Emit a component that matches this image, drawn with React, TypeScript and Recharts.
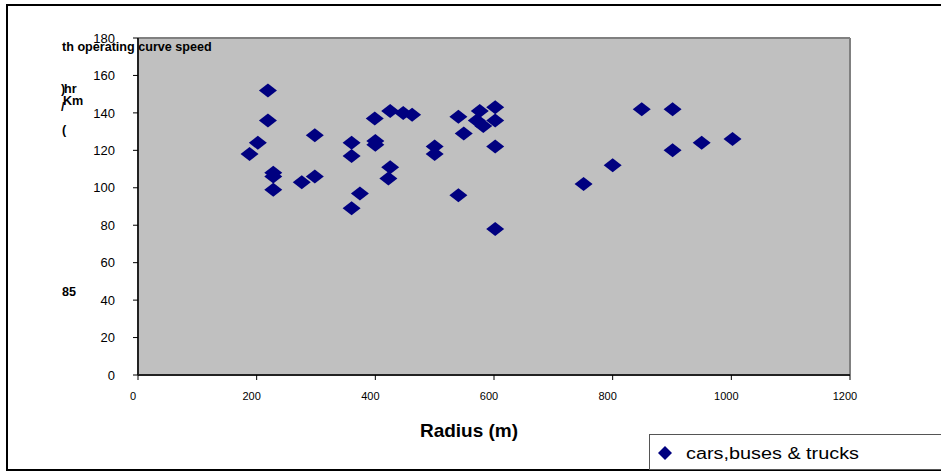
import React from "react";
import {
  ScatterChart,
  Scatter,
  XAxis,
  YAxis,
  CartesianGrid,
  ReferenceLine,
  Legend,
} from "recharts";

// radius (m) and 85th percentile operating speed (km/hr)
const radius = [
  219, 219, 202, 188, 228, 228, 228, 276, 298, 298, 360, 360, 360, 374, 399,
  400, 400, 425, 425, 422, 447, 462, 500, 500, 540, 549, 540, 576, 571, 582,
  602, 602, 602, 602, 751, 800, 849, 901, 901, 950, 1002,
];
const speed = [
  152, 136, 124, 118, 108, 106, 99, 103, 106, 128, 124, 117, 89, 97, 137, 125,
  123, 141, 111, 105, 140, 139, 122, 118, 138, 129, 96, 141, 136, 133, 143,
  136, 122, 78, 102, 112, 142, 142, 120, 124, 126,
];
const xTicks = [0, 200, 400, 600, 800, 1000, 1200];
const yTicks = [0, 20, 40, 60, 80, 100, 120, 140, 160, 180];
const seriesName = "cars,buses & trucks";

const data = radius.map((r, i) => ({ radius: r, speed: speed[i] }));

const FONT = "Arial, 'Liberation Sans', sans-serif";
const NAVY = "#000080";

const Diamond = (props: any) => {
  const { cx, cy } = props;
  if (cx == null || cy == null) return null;
  return (
    <polygon
      points={`${cx - 9},${cy} ${cx},${cy - 7} ${cx + 9},${cy} ${cx},${cy + 7}`}
      fill={NAVY}
    />
  );
};

// the broken y axis title as it appears in the original
const YTitle = () => (
  <g fontFamily={FONT} fontSize={12.6} fontWeight="bold" fill="#000">
    <text x={62} y={51}>th operating curve speed</text>
    <text x={61} y={93}>)</text>
    <text x={64} y={93}>hr</text>
    <text x={61} y={111}>/</text>
    <text x={63} y={105}>Km</text>
    <text x={62} y={134}>(</text>
    <text x={62} y={296}>85</text>
  </g>
);

const XTitle = (props: any) => {
  const { viewBox } = props;
  const cx = viewBox.x + viewBox.width / 2 - 25;
  return (
    <text
      x={cx}
      y={437}
      textAnchor="middle"
      fontFamily={FONT}
      fontSize={19}
      fontWeight="bold"
      fill="#000"
    >
      Radius (m)
    </text>
  );
};

const LegendBox = () => (
  <div
    style={{
      border: "1px solid #555",
      height: 36,
      width: 300,
      boxSizing: "border-box",
      background: "#fff",
    }}
  >
    <svg width={298} height={34}>
      <polygon points="8,18 15,11 22,18 15,25" fill={NAVY} />
      <text
        x={36}
        y={24}
        fontFamily={FONT}
        fontSize={16}
        fill="#000"
        textLength={173}
        lengthAdjust="spacingAndGlyphs"
      >
        {seriesName}
      </text>
    </svg>
  </div>
);

export default function App() {
  return (
    <div
      style={{
        position: "absolute",
        left: 0,
        top: 0,
        width: 941,
        height: 471,
        overflow: "hidden",
        background: "#fff",
      }}
    >
      <div
        style={{
          position: "absolute",
          left: 6,
          top: 4,
          width: 940,
          height: 463,
          borderLeft: "2px solid #000",
          borderTop: "2px solid #000",
          borderBottom: "3px solid #000",
        }}
      />
      <div style={{ position: "absolute", left: 0, top: 0 }}>
        <ScatterChart
          width={941}
          height={471}
          margin={{ top: 38, right: 91, left: 0, bottom: 0 }}
        >
          <CartesianGrid
            fill="#C0C0C0"
            fillOpacity={1}
            horizontal={false}
            vertical={false}
          />
          <ReferenceLine y={180} stroke="#808080" strokeWidth={2} />
          <ReferenceLine x={1200} stroke="#808080" strokeWidth={2} />
          <XAxis
            type="number"
            dataKey="radius"
            domain={[0, 1200]}
            ticks={xTicks}
            height={96}
            tickSize={5}
            tickMargin={12}
            axisLine={{ stroke: "#222", strokeWidth: 2 }}
            tickLine={{ stroke: "#000" }}
            tick={{ fill: "#000", fontSize: 11, fontFamily: FONT, dx: -5 }}
            label={<XTitle />}
          />
          <YAxis
            type="number"
            dataKey="speed"
            domain={[0, 180]}
            ticks={yTicks}
            width={138}
            tickSize={5}
            tickMargin={18}
            axisLine={{ stroke: "#222", strokeWidth: 2 }}
            tickLine={{ stroke: "#000" }}
            tick={{ fill: "#000", fontSize: 13, fontFamily: FONT }}
            label={<YTitle />}
          />
          <Legend
            layout="horizontal"
            verticalAlign="middle"
            align="center"
            wrapperStyle={{ left: 649, top: 434, width: 300, height: 36 }}
            content={<LegendBox />}
          />
          <Scatter
            name={seriesName}
            data={data}
            fill={NAVY}
            shape={<Diamond />}
            isAnimationActive={false}
          />
        </ScatterChart>
      </div>
    </div>
  );
}
